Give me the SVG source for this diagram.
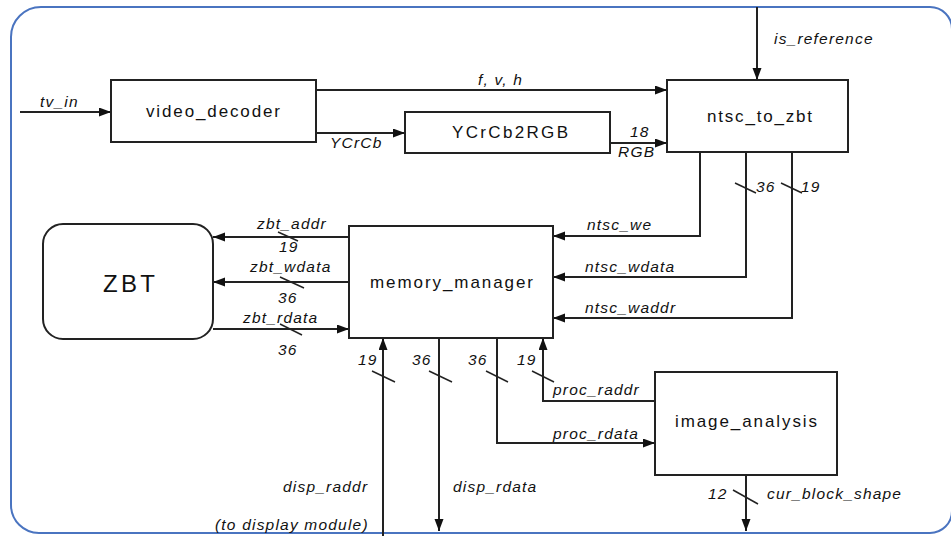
<svg xmlns="http://www.w3.org/2000/svg" width="951" height="536" viewBox="0 0 951 536">
<style>
.box{fill:#fff;stroke:#222;stroke-width:2}
.w{fill:none;stroke:#222;stroke-width:2}
.sl{fill:none;stroke:#222;stroke-width:1.5}
.t{font-family:"Liberation Sans",Arial,sans-serif;font-size:17px;fill:#111}
.l{font-family:"Liberation Sans",Arial,sans-serif;font-size:15.5px;font-style:italic;letter-spacing:1.2px;fill:#111}
</style>
<defs>
<marker id="ah" markerUnits="userSpaceOnUse" markerWidth="13" markerHeight="10" refX="12" refY="4.5" orient="auto">
<path d="M0,0 L12,4.5 L0,9 z" fill="#111"/>
</marker>
</defs>
<rect width="951" height="536" fill="#fff"/>
<path d="M41,7 H930 A22,22 0 0 1 952,29 V511 A22,22 0 0 1 930,533 H39 A28,28 0 0 1 11,505 V37 A30,30 0 0 1 41,7 Z" fill="none" stroke="#4a74c0" stroke-width="2"/>

<g id="connectors">
<line class="w" x1="20" y1="112" x2="111" y2="112" marker-end="url(#ah)"/>
<line class="w" x1="316" y1="90" x2="667" y2="90" marker-end="url(#ah)"/>
<line class="w" x1="316" y1="133" x2="405" y2="133" marker-end="url(#ah)"/>
<line class="w" x1="610" y1="143" x2="667" y2="143" marker-end="url(#ah)"/>
<line class="w" x1="757" y1="7" x2="757" y2="80" marker-end="url(#ah)"/>
<path class="w" d="M700,152 V236 H553" marker-end="url(#ah)"/>
<path class="w" d="M746,152 V277 H553" marker-end="url(#ah)"/>
<path class="w" d="M792,152 V318 H553" marker-end="url(#ah)"/>
<line class="w" x1="349" y1="237" x2="213" y2="237" marker-end="url(#ah)"/>
<line class="w" x1="349" y1="282" x2="213" y2="282" marker-end="url(#ah)"/>
<line class="w" x1="213" y1="329" x2="349" y2="329" marker-end="url(#ah)"/>
<line class="w" x1="383" y1="536" x2="383" y2="338" marker-end="url(#ah)"/>
<line class="w" x1="439" y1="338" x2="439" y2="531" marker-end="url(#ah)"/>
<path class="w" d="M497,338 V443 H655" marker-end="url(#ah)"/>
<path class="w" d="M655,401 H543 V338" marker-end="url(#ah)"/>
<line class="w" x1="746" y1="475" x2="746" y2="531" marker-end="url(#ah)"/>
<!-- bus width slashes -->
<line class="sl" x1="735" y1="183" x2="756" y2="193"/>
<line class="sl" x1="781" y1="183" x2="802" y2="193"/>
<line class="sl" x1="278" y1="232" x2="298" y2="241"/>
<line class="sl" x1="280" y1="277" x2="304" y2="288"/>
<line class="sl" x1="280" y1="324" x2="302" y2="335"/>
<line class="sl" x1="372" y1="371" x2="395" y2="382"/>
<line class="sl" x1="429" y1="371" x2="452" y2="382"/>
<line class="sl" x1="486" y1="371" x2="508" y2="382"/>
<line class="sl" x1="532" y1="371" x2="554" y2="382"/>
<line class="sl" x1="733" y1="490" x2="758" y2="504"/>
<!-- labels -->
<text class="l" x="40" y="107">tv_in</text>
<text class="l" x="478" y="85">f, v, h</text>
<text class="l" x="774" y="44">is_reference</text>
<text class="l" x="330" y="148">YCrCb</text>
<text class="l" x="630" y="137">18</text>
<text class="l" x="618" y="157">RGB</text>
<text class="l" x="756" y="192">36</text>
<text class="l" x="801" y="192">19</text>
<text class="l" x="587" y="230">ntsc_we</text>
<text class="l" x="585" y="272">ntsc_wdata</text>
<text class="l" x="585" y="313">ntsc_waddr</text>
<text class="l" x="257" y="229">zbt_addr</text>
<text class="l" x="279" y="252">19</text>
<text class="l" x="250" y="272">zbt_wdata</text>
<text class="l" x="278" y="303">36</text>
<text class="l" x="243" y="323">zbt_rdata</text>
<text class="l" x="278" y="355">36</text>
<text class="l" x="358" y="365">19</text>
<text class="l" x="412" y="365">36</text>
<text class="l" x="468" y="365">36</text>
<text class="l" x="517" y="365">19</text>
<text class="l" x="553" y="395">proc_raddr</text>
<text class="l" x="553" y="439">proc_rdata</text>
<text class="l" x="283" y="492">disp_raddr</text>
<text class="l" x="453" y="492">disp_rdata</text>
<text class="l" x="215" y="530">(to display module)</text>
<text class="l" x="708" y="499">12</text>
<text class="l" x="767" y="499">cur_block_shape</text>
</g>

<g id="video_decoder">
<rect class="box" x="111" y="80" width="205" height="62"/>
<text class="t" x="146" y="117" textLength="134" lengthAdjust="spacing">video_decoder</text>
</g>
<g id="YCrCb2RGB">
<rect class="box" x="405" y="112" width="205" height="41"/>
<text class="t" x="452" y="138" textLength="116" lengthAdjust="spacing">YCrCb2RGB</text>
</g>
<g id="ntsc_to_zbt">
<rect class="box" x="667" y="80" width="181" height="72"/>
<text class="t" x="707" y="122" textLength="105" lengthAdjust="spacing">ntsc_to_zbt</text>
</g>
<g id="memory_manager">
<rect class="box" x="349" y="226" width="204" height="112"/>
<text class="t" x="370" y="288" textLength="163" lengthAdjust="spacing">memory_manager</text>
</g>
<g id="ZBT">
<rect class="box" x="43" y="224" width="170" height="115" rx="20"/>
<text class="t" x="103" y="292" style="font-size:24px" textLength="52" lengthAdjust="spacing">ZBT</text>
</g>
<g id="image_analysis">
<rect class="box" x="655" y="372" width="182" height="103"/>
<text class="t" x="675" y="427" textLength="142" lengthAdjust="spacing">image_analysis</text>
</g>
</svg>
